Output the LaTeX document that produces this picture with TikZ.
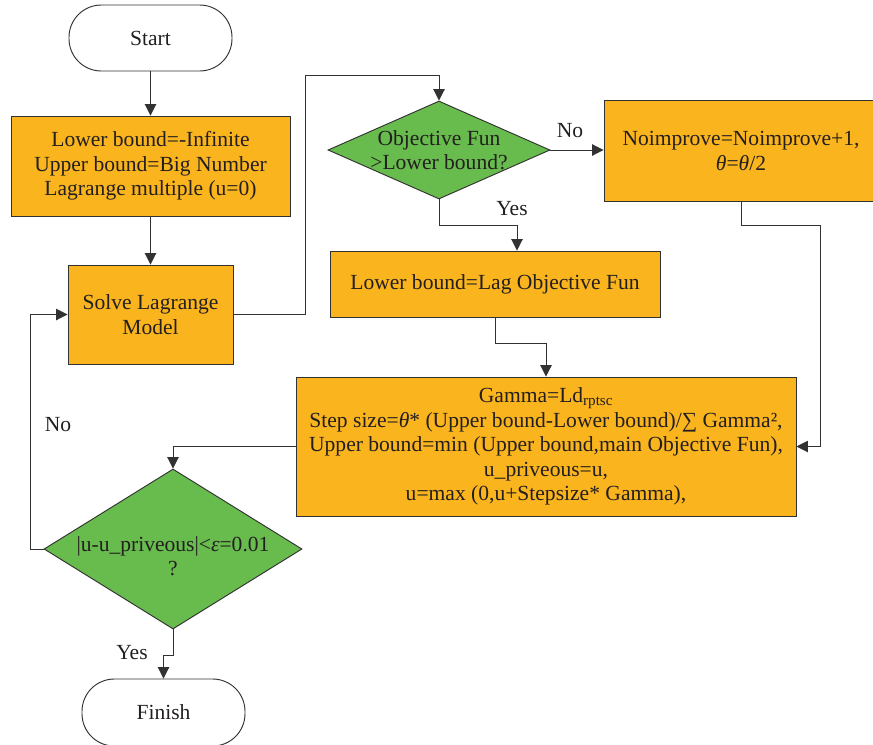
\documentclass[tikz,border=0pt]{standalone}
\usepackage{fontspec}
\setmainfont{Liberation Serif}
\usetikzlibrary{arrows.meta,shapes.geometric}
\definecolor{boxorange}{RGB}{250,180,30}
\definecolor{decgreen}{RGB}{104,187,77}
\definecolor{linegray}{RGB}{50,50,50}
\definecolor{textdark}{RGB}{35,31,32}
\tikzset{
	flow/.style={line width=0.8pt, color=linegray, -{Triangle[length=0.34cm,width=0.34cm]}},
	process/.style={draw=linegray, line width=0.8pt, fill=boxorange, align=center, inner sep=0pt},
	decision/.style={diamond, draw=linegray, line width=0.8pt, fill=decgreen, inner sep=0pt},
	terminal/.style={draw=linegray, line width=0.8pt, rounded corners=0.97cm, align=center, inner sep=0pt},
}

\begin{document}
\begin{tikzpicture}[x=0.03cm, y=-0.03cm, font=\fontsize{18.4pt}{21pt}\selectfont, text=textdark]
			%%%%% START %%%%%
			
			\useasboundingbox (0, 0) rectangle (873, 744);
			
			\node[terminal, minimum width=4.89cm, minimum height=1.98cm] (start) at (150.5, 38) {Start};
			\node[process, minimum width=8.37cm, minimum height=3cm] (init) at (150.5, 166) {Lower bound=-Infinite\\Upper bound=Big Number\\Lagrange multiple (u=0)};
			\node[process, minimum width=4.95cm, minimum height=2.97cm] (solve) at (150.5, 314.5) {Solve Lagrange\\Model};
			
			\node[decision, minimum width=6.66cm, minimum height=2.94cm, label={[align=center]center:Objective Fun\\{>}Lower bound?}] (objtest) at (439, 150) {};
			\node[process, minimum width=8.22cm, minimum height=3.03cm] (noimp) at (741, 151) {Noimprove=Noimprove+1,\\\textit{θ}=\textit{θ}/2};
			\node[process, minimum width=9.9cm, minimum height=1.98cm] (lagobj) at (495, 284) {Lower bound=Lag Objective Fun};
			
			\node[process, minimum width=15cm, minimum height=4.17cm] (update) at (546, 446.5) {Gamma=Ld\textsubscript{rptsc}\\Step size=\textit{θ}* (Upper bound-Lower bound)/∑ Gamma²,\\Upper bound=min (Upper bound,main Objective Fun),\\u\_priveous=u,\\u=max (0,u+Stepsize* Gamma),};
			
			\node[decision, minimum width=7.74cm, minimum height=4.8cm, label={[align=center, yshift=-0.22cm]center:|u-u\_priveous|<\textit{ε}=0.01\\?}] (conv) at (173, 549) {};
			\node[terminal, minimum width=4.89cm, minimum height=2.01cm] (finish) at (163.5, 712.5) {Finish};
			
			\node (nolabA) at (570, 131) {No};
			\node (yeslabA) at (512, 209) {Yes};
			\node (nolabB) at (58, 425) {No};
			\node (yeslabB) at (132, 653) {Yes};
			
			\coordinate (loopknee) at (305, 75);
			\coordinate (yesknee) at (517, 225);
			\coordinate (lagknee) at (546, 343);
			\coordinate (noknee) at (820, 225);
			\coordinate (backknee) at (30, 549);
			\coordinate (endknee) at (173, 655);
			
			\draw[flow] (start) -- (init);
			\draw[flow] (init) -- (solve);
			\draw[flow] (solve.east) -| (loopknee) -| (objtest.north);
			\draw[flow] (objtest.east) -- (noimp.west |- objtest.east);
			\draw[flow] (objtest.south) |- (yesknee) -- (yesknee |- lagobj.north);
			\draw[flow] (lagobj.south) |- (lagknee) -- (update.north);
			\draw[flow] (noimp.south) |- (noknee) |- (update.east);
			\draw[flow] (update.west) -| (conv.north);
			\draw[flow] (conv.west) -- (backknee) |- (solve.west);
			\draw[flow] (conv.south) -- (endknee) -| (finish.north);
			
			%%%%% END %%%%%
\end{tikzpicture}
\end{document}
